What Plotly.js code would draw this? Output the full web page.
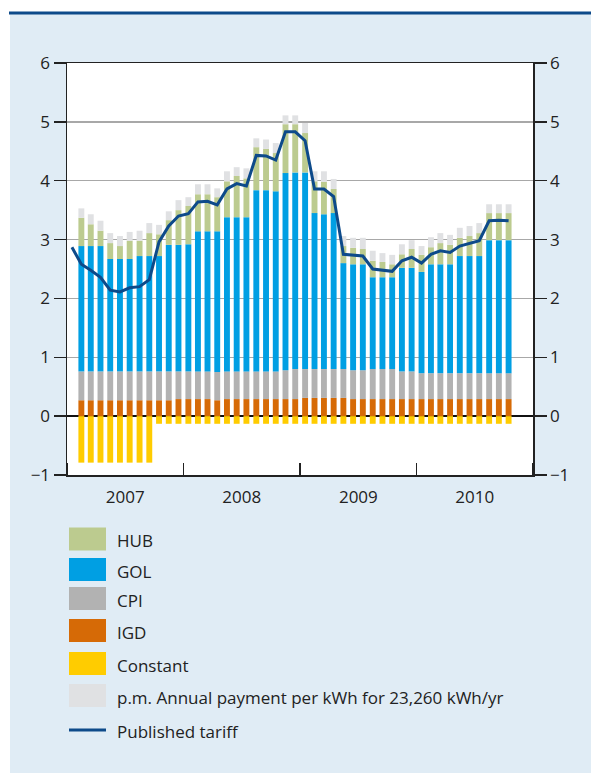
<!DOCTYPE html>
<html>
<head>
<meta charset="utf-8">
<script src="https://cdn.plot.ly/plotly-3.0.1.min.js"></script>
<style>html,body{margin:0;padding:0;background:#fff;}#chart{width:591px;height:773px;}</style>
</head>
<body>
<div id="chart"></div>
<script>
// Months (Jan 2007 – Oct 2010)
const months = ['2007-01','2007-02','2007-03','2007-04','2007-05','2007-06','2007-07','2007-08','2007-09','2007-10','2007-11','2007-12',
  '2008-01','2008-02','2008-03','2008-04','2008-05','2008-06','2008-07','2008-08','2008-09','2008-10','2008-11','2008-12',
  '2009-01','2009-02','2009-03','2009-04','2009-05','2009-06','2009-07','2009-08','2009-09','2009-10','2009-11','2009-12',
  '2010-01','2010-02','2010-03','2010-04','2010-05','2010-06','2010-07','2010-08','2010-09','2010-10'];

// Components (no bar in Jan 2007)
const igd = [null,0.27,0.27,0.27,0.27,0.27,0.27,0.27,0.27,0.27,0.27,0.29,0.29,0.29,0.29,0.27,0.29,0.29,0.29,0.29,0.29,0.29,
  0.29,0.29,0.31,0.31,0.31,0.31,0.31,0.29,0.29,0.29,0.29,0.29,0.29,0.29,0.29,0.29,0.29,0.29,0.29,0.29,0.29,0.29,0.29,0.29];
const cpi = [null,0.49,0.49,0.49,0.49,0.49,0.49,0.49,0.49,0.49,0.49,0.47,0.47,0.47,0.47,0.48,0.47,0.47,0.47,0.47,0.47,0.47,
  0.49,0.51,0.49,0.49,0.49,0.49,0.49,0.49,0.49,0.51,0.51,0.51,0.47,0.47,0.44,0.44,0.44,0.44,0.44,0.44,0.44,0.44,0.44,0.44];
const gol = [null,2.13,2.13,2.13,1.91,1.91,1.91,1.96,1.96,1.96,2.15,2.15,2.16,2.38,2.38,2.39,2.62,2.62,2.62,3.08,3.08,3.06,
  3.35,3.34,3.34,2.65,2.63,2.65,1.80,1.80,1.80,1.56,1.56,1.56,1.76,1.76,1.72,1.85,1.85,1.85,1.99,1.99,1.99,2.26,2.26,2.26];
const hub = [null,0.48,0.37,0.26,0.27,0.22,0.31,0.26,0.39,0.37,0.42,0.59,0.65,0.63,0.63,0.58,0.61,0.70,0.66,0.73,0.70,0.65,
  0.83,0.82,0.67,0.54,0.55,0.41,0.29,0.28,0.26,0.28,0.26,0.22,0.23,0.32,0.29,0.29,0.36,0.33,0.31,0.34,0.39,0.46,0.46,0.46];
const pm = [null,0.16,0.17,0.17,0.17,0.17,0.15,0.17,0.17,0.16,0.15,0.17,0.15,0.17,0.17,0.15,0.17,0.15,0.17,0.15,0.16,0.17,
  0.15,0.15,0.17,0.17,0.18,0.17,0.17,0.17,0.19,0.17,0.15,0.16,0.17,0.15,0.15,0.17,0.17,0.17,0.17,0.17,0.17,0.15,0.15,0.15];
const constant = [null,-0.79,-0.79,-0.79,-0.79,-0.79,-0.79,-0.79,-0.79,-0.13,-0.13,-0.13,-0.13,-0.13,-0.13,-0.13,-0.13,-0.13,
  -0.13,-0.13,-0.13,-0.13,-0.13,-0.13,-0.13,-0.13,-0.13,-0.13,-0.13,-0.13,-0.13,-0.13,-0.13,-0.13,-0.13,-0.13,-0.13,-0.13,
  -0.13,-0.13,-0.13,-0.13,-0.13,-0.13,-0.13,-0.13];
const tariff = [2.87,2.58,2.48,2.36,2.14,2.11,2.18,2.20,2.32,2.96,3.23,3.40,3.44,3.64,3.65,3.59,3.86,3.95,3.91,4.43,
  4.42,4.35,4.83,4.83,4.68,3.86,3.86,3.73,2.75,2.73,2.72,2.50,2.48,2.46,2.64,2.70,2.60,2.75,2.81,2.78,
  2.89,2.93,2.98,3.32,3.33,3.32];

const legendNames = ['HUB','GOL','CPI','IGD','Constant','p.m. Annual payment per kWh for 23,260 kWh/yr','Published tariff'];
const yTicks = [-1,0,1,2,3,4,5,6];

const C = {hub:'#bccb8f', gol:'#009fe3', cpi:'#b2b2b2', igd:'#d66a06', con:'#ffcc00', pm:'#e0e1e3', line:'#0d4a8a'};
const W_BAR = 1.6e9;

function barTrace(name, y, color){
  return {type:'bar', name:name, x:months, y:y, xperiod:'M1', xperiodalignment:'middle',
    width:W_BAR, marker:{color:color, line:{width:0}}, showlegend:false, hoverinfo:'x+y+name'};
}
const traces = [
  barTrace('IGD', igd, C.igd),
  barTrace('CPI', cpi, C.cpi),
  barTrace('GOL', gol, C.gol),
  barTrace('HUB', hub, C.hub),
  barTrace(legendNames[5], pm, C.pm),
  barTrace('Constant', constant, C.con),
  {type:'scatter', mode:'lines', name:'Published tariff', x:months, y:tariff, xperiod:'M1', xperiodalignment:'middle',
   yaxis:'y2', line:{color:C.line, width:3}, showlegend:false}
];

// layout geometry (pixels)
const L=67, T=63, PW=466, PH=412;
const px = x => (x-L)/PW;
const py = y => (T+PH-y)/PH;

const shapes = [
  {type:'rect', xref:'paper', yref:'paper', x0:px(0), x1:px(591), y0:py(12), y1:py(0), fillcolor:'#ffffff', line:{width:0}},
  {type:'rect', xref:'paper', yref:'paper', x0:px(0), x1:px(10), y0:py(773), y1:py(0), fillcolor:'#ffffff', line:{width:0}},
  {type:'rect', xref:'paper', yref:'paper', x0:px(9), x1:px(591), y0:py(14.5), y1:py(11.5), fillcolor:C.line, line:{width:0}}
];
const annotations = [];
const legColors = [C.hub, C.gol, C.cpi, C.igd, C.con, C.pm];
const rowY = [539, 569.5, 598.5, 630.5, 663.5, 695.5, 730];
legendNames.forEach((nm,i)=>{
  if(i<6){
    shapes.push({type:'rect', xref:'paper', yref:'paper', x0:px(69), x1:px(106), y0:py(rowY[i]+11.5), y1:py(rowY[i]-11.5),
      fillcolor:legColors[i], line:{width:0}});
  } else {
    shapes.push({type:'line', xref:'paper', yref:'paper', x0:px(69), x1:px(106), y0:py(rowY[i]), y1:py(rowY[i]),
      line:{color:C.line, width:3}});
  }
  annotations.push({xref:'paper', yref:'paper', x:px(115), y:py(rowY[i]+1.5), xanchor:'left', yanchor:'middle',
    text:nm, showarrow:false, font:{size:17, color:'#222'}});
});

const axisCommon = {range:[-1,6], tickvals:yTicks, ticks:'outside', ticklen:12, tickwidth:1.5, tickcolor:'#222',
  showline:true, linecolor:'#222', linewidth:1.5, fixedrange:true, tickfont:{size:17, color:'#222'}};

const layout = {
  width:591, height:773,
  margin:{l:L, r:591-L-PW, t:T, b:773-T-PH, pad:0},
  paper_bgcolor:'#e0ecf5', plot_bgcolor:'#ffffff',
  font:{family:'"Open Sans", "DejaVu Sans", sans-serif', size:17, color:'#222'},
  barmode:'relative', showlegend:false,
  xaxis:{type:'date', range:['2007-01-01','2011-01-01'], tick0:'2007-01-01', dtick:'M12', tickformat:'%Y',
    ticklabelmode:'period', ticks:'inside', ticklen:12, tickwidth:1.5, tickcolor:'#222', ticklabelstandoff:6,
    showline:true, mirror:true, linecolor:'#222', linewidth:1.5, showgrid:false, zeroline:false,
    tickfont:{size:17, color:'#222'}, fixedrange:true},
  yaxis:Object.assign({}, axisCommon, {showgrid:true, gridcolor:'#a8a8a8', gridwidth:1.5, zeroline:true,
    zerolinecolor:'#111', zerolinewidth:1.5, mirror:true}),
  yaxis2:Object.assign({}, axisCommon, {overlaying:'y', side:'right', showgrid:false, zeroline:false}),
  shapes:shapes, annotations:annotations
};

Plotly.newPlot('chart', traces, layout, {displayModeBar:false, staticPlot:true});
</script>
</body>
</html>
